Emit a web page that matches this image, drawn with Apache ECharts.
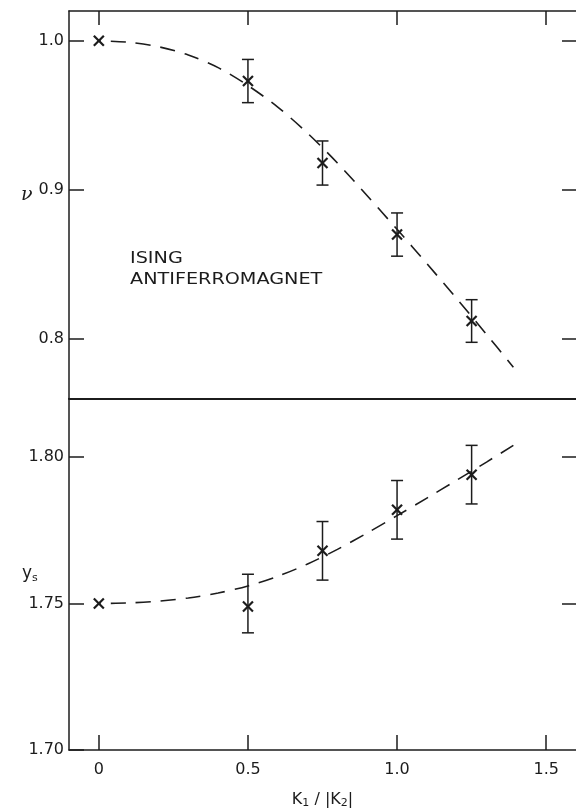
<!DOCTYPE html>
<html>
<head>
<meta charset="utf-8">
<script src="https://cdn.jsdelivr.net/npm/echarts@6/dist/echarts.min.js"></script>
<style>
  html, body { margin: 0; padding: 0; background: #fff; }
  #chart { width: 576px; height: 810px; }
</style>
</head>
<body>
<div id="chart"></div>
<script>
// measured points (x = K1/|K2|)
const xPoints = [0, 0.5, 0.75, 1.0, 1.25];
const nuValues = [1.000, 0.973, 0.918, 0.870, 0.812];
const nuErrors = [0, 0.0145, 0.0148, 0.0145, 0.0143];
const ysValues = [1.750, 1.749, 1.768, 1.782, 1.794];
const ysLow = [null, 1.740, 1.758, 1.772, 1.784];
const ysHigh = [null, 1.760, 1.778, 1.792, 1.804];

// dashed guide curves
const curveX = [0, 0.1, 0.2, 0.3, 0.4, 0.5, 0.6, 0.7, 0.8, 0.9, 1.0, 1.1, 1.2, 1.3, 1.39];
const nuCurve = [1.000, 0.999, 0.996, 0.9905, 0.982, 0.970, 0.9555, 0.938, 0.918, 0.896, 0.8735, 0.8505, 0.827, 0.803, 0.781];
const ysCurve = [1.7500, 1.7502, 1.7508, 1.7519, 1.7536, 1.7560, 1.7593, 1.7635, 1.7685, 1.7741, 1.7800, 1.7860, 1.7921, 1.7983, 1.8040];

// tick labels
const xTicks = [0, 0.5, 1.0, 1.5];
const nuTicks = [0.8, 0.9, 1.0];
const ysTicks = [1.70, 1.75, 1.80];

const ink = "#1c1c1c";
const font = "DejaVu Sans";

let myChart = echarts.init(document.getElementById("chart"));

// x-mark with optional error bar
function markRender(params, api) {
  const x = api.value(0);
  const c = api.coord([x, api.value(1)]);
  const s = 5;
  const kids = [
    { type: "line", shape: { x1: c[0] - s, y1: c[1] - s, x2: c[0] + s, y2: c[1] + s }, style: { stroke: ink, lineWidth: 2.2 } },
    { type: "line", shape: { x1: c[0] - s, y1: c[1] + s, x2: c[0] + s, y2: c[1] - s }, style: { stroke: ink, lineWidth: 2.2 } }
  ];
  const lo = api.value(2), hi = api.value(3);
  if (!isNaN(lo) && !isNaN(hi) && hi > lo) {
    const a = api.coord([x, hi]);
    const b = api.coord([x, lo]);
    const w = 6;
    kids.push({ type: "line", shape: { x1: a[0], y1: a[1], x2: b[0], y2: b[1] }, style: { stroke: ink, lineWidth: 1.5 } });
    kids.push({ type: "line", shape: { x1: a[0] - w, y1: a[1], x2: a[0] + w, y2: a[1] }, style: { stroke: ink, lineWidth: 1.5 } });
    kids.push({ type: "line", shape: { x1: b[0] - w, y1: b[1], x2: b[0] + w, y2: b[1] }, style: { stroke: ink, lineWidth: 1.5 } });
  }
  return { type: "group", children: kids };
}

const nuData = xPoints.map((x, i) => [x, nuValues[i],
  nuErrors[i] ? nuValues[i] - nuErrors[i] : null,
  nuErrors[i] ? nuValues[i] + nuErrors[i] : null]);
const ysData = xPoints.map((x, i) => [x, ysValues[i], ysLow[i], ysHigh[i]]);

const axisLine = { show: true, onZero: false, lineStyle: { color: ink, width: 1.5 } };
const noLabel = { show: false };
const fmt1 = (v) => (v === 0 ? "0" : v.toFixed(1));

myChart.setOption({
  animation: false,
  grid: [
    { left: 69, right: -7, top: 11, bottom: 411.5 },
    { left: 69, right: -7, top: 398.5, bottom: 58.5 }
  ],
  xAxis: [
    // top edge of upper panel
    {
      type: "value", gridIndex: 0, position: "top", min: -0.1, max: 1.6,
      axisLine: axisLine,
      axisTick: { show: true, inside: true, length: 14, customValues: xTicks, lineStyle: { color: ink, width: 1.5 } },
      axisLabel: noLabel, splitLine: { show: false }
    },
    // divider between the panels
    {
      type: "value", gridIndex: 0, position: "bottom", min: -0.1, max: 1.6,
      axisLine: { show: true, onZero: false, lineStyle: { color: ink, width: 2 } },
      axisTick: { show: false }, axisLabel: noLabel, splitLine: { show: false }
    },
    // bottom axis
    {
      type: "value", gridIndex: 1, position: "bottom", min: -0.1, max: 1.6,
      axisLine: axisLine,
      axisTick: { show: true, inside: true, length: 15, customValues: xTicks, lineStyle: { color: ink, width: 1.5 } },
      axisLabel: { customValues: xTicks, formatter: fmt1, color: ink, fontFamily: font, fontSize: 16, margin: 12 },
      splitLine: { show: false },
      name: "{k|K}{s|1} / |{k|K}{s|2}|",
      nameLocation: "middle", nameGap: 40,
      nameTextStyle: {
        color: ink, fontFamily: font, fontSize: 16,
        rich: {
          k: { fontFamily: font, fontSize: 16, color: ink },
          s: { fontFamily: font, fontSize: 11, color: ink, verticalAlign: "bottom", padding: [8, 0, 0, 0] }
        }
      }
    }
  ],
  yAxis: [
    {
      type: "value", gridIndex: 0, position: "left", min: 0.76, max: 1.02,
      axisLine: axisLine,
      axisTick: { show: true, inside: true, length: 15, customValues: nuTicks, lineStyle: { color: ink, width: 1.5 } },
      axisLabel: { customValues: nuTicks, formatter: (v) => v.toFixed(1), color: ink, fontFamily: font, fontSize: 16, margin: 5 },
      splitLine: { show: false }
    },
    {
      type: "value", gridIndex: 0, position: "right", min: 0.76, max: 1.02,
      axisLine: { show: false, onZero: false },
      axisTick: { show: true, inside: true, length: 14, customValues: nuTicks, lineStyle: { color: ink, width: 1.5 } },
      axisLabel: noLabel, splitLine: { show: false }
    },
    {
      type: "value", gridIndex: 1, position: "left", min: 1.70, max: 1.82,
      axisLine: axisLine,
      axisTick: { show: true, inside: true, length: 15, customValues: ysTicks, lineStyle: { color: ink, width: 1.5 } },
      axisLabel: { customValues: ysTicks, formatter: (v) => v.toFixed(2), color: ink, fontFamily: font, fontSize: 16, margin: 5 },
      splitLine: { show: false }
    },
    {
      type: "value", gridIndex: 1, position: "right", min: 1.70, max: 1.82,
      axisLine: { show: false, onZero: false },
      axisTick: { show: true, inside: true, length: 14, customValues: [1.75, 1.80], lineStyle: { color: ink, width: 1.5 } },
      axisLabel: noLabel, splitLine: { show: false }
    }
  ],
  series: [
    {
      name: "nu fit", type: "line", xAxisIndex: 0, yAxisIndex: 0,
      data: curveX.map((x, i) => [x, nuCurve[i]]),
      smooth: 0.3, showSymbol: false,
      lineStyle: { color: ink, width: 1.6, type: [15, 10], dashOffset: -12 }
    },
    {
      name: "ys fit", type: "line", xAxisIndex: 2, yAxisIndex: 2,
      data: curveX.map((x, i) => [x, ysCurve[i]]),
      smooth: 0.3, showSymbol: false,
      lineStyle: { color: ink, width: 1.6, type: [15, 10], dashOffset: -12 }
    },
    {
      name: "nu", type: "custom", xAxisIndex: 0, yAxisIndex: 0,
      renderItem: markRender, data: nuData, z: 5
    },
    {
      name: "ys", type: "custom", xAxisIndex: 2, yAxisIndex: 2,
      renderItem: markRender, data: ysData, z: 5
    }
  ],
  graphic: [
    { type: "text", left: 21, top: 186, style: { text: "ν", font: "italic 19px DejaVu Serif", fill: ink } },
    {
      type: "text", left: 22, top: 565,
      style: {
        text: "{y|y}{s|s}", fill: ink,
        rich: {
          y: { fontFamily: font, fontSize: 17, color: ink },
          s: { fontFamily: font, fontSize: 11, color: ink, padding: [9, 0, 0, 0] }
        }
      }
    },
    { type: "text", left: 130, top: 251, scaleX: 1.2, style: { text: "ISING", font: "16px DejaVu Sans", fill: ink } },
    { type: "text", left: 130, top: 272, scaleX: 1.2, style: { text: "ANTIFERROMAGNET", font: "16px DejaVu Sans", fill: ink } }
  ]
});
</script>
</body>
</html>
